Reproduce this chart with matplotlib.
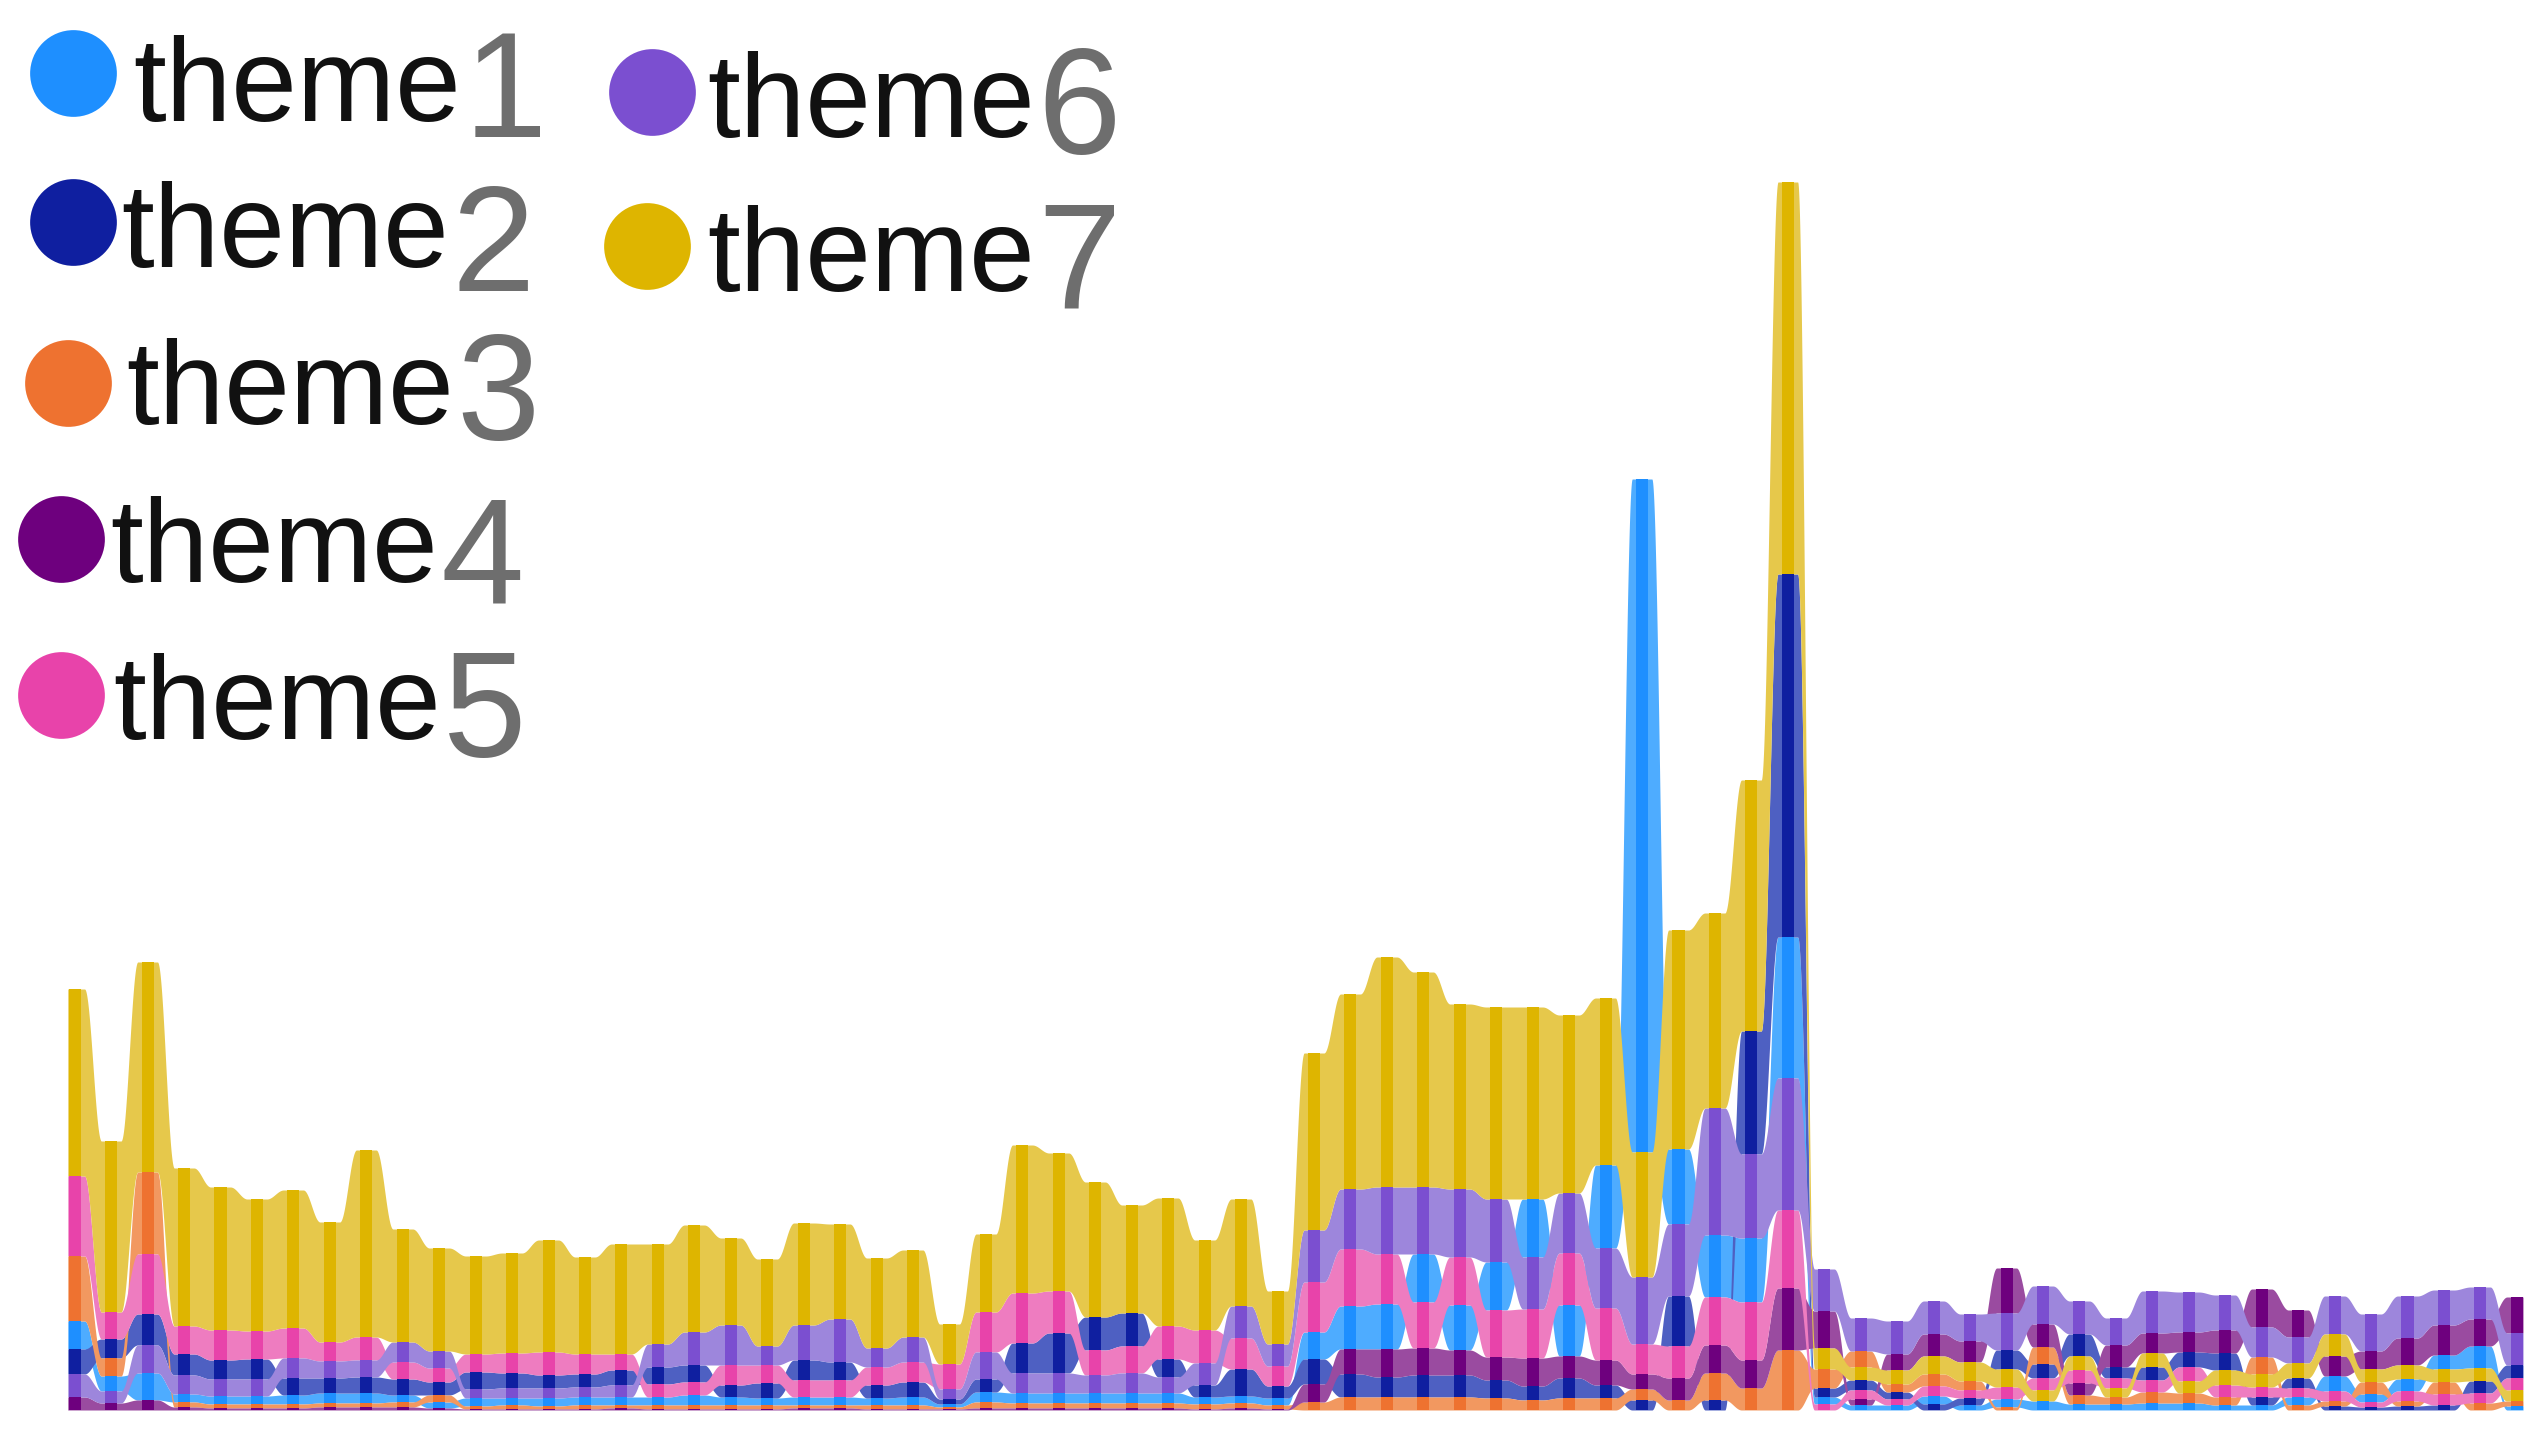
import numpy as np
import matplotlib
matplotlib.use("Agg")
import matplotlib.pyplot as plt

# values per time step (68 steps), one list per theme
theme1 = [28, 15, 27, 8, 8, 8, 9, 10, 10, 7, 6,
          8, 7, 8, 8, 8, 8, 10, 8, 7, 8, 8, 7,
          8, 3, 10, 10, 10, 10, 10, 10, 7, 7, 7,
          27, 43, 45, 48, 45, 48, 58, 51, 83, 673, 75, 62, 64, 141,
          7, 5, 5, 8, 5, 8, 9, 6, 6,
          7, 7, 5, 5, 8, 15, 8, 12, 14, 22, 4]
theme2 = [25, 19, 31, 21, 19, 20, 17, 15, 16, 16, 13,
          17, 15, 13, 13, 15, 17, 17, 12, 15, 20, 18, 13,
          15, 5, 13, 30, 40, 33, 33, 18, 12, 27, 12,
          25, 23, 20, 22, 22, 18, 14, 20, 13, 10, 50, 10, 123, 363,
          9, 10, 7, 6, 7, 19, 14, 22, 11,
          13, 15, 17, 8, 10, 4, 3, 4, 5, 12, 13]
theme3 = [65, 18, 82, 5, 4, 4, 4, 4, 4, 5, 7,
          3, 4, 3, 4, 3, 4, 4, 4, 4, 3, 3, 4,
          4, 2, 6, 5, 5, 5, 5, 5, 5, 5, 4,
          8, 13, 13, 13, 13, 12, 10, 12, 12, 11, 10, 27, 22, 60,
          19, 16, 8, 12, 9, 3, 17, 9, 7,
          11, 10, 8, 17, 5, 5, 12, 5, 12, 7, 5]
theme4 = [13, 7, 10, 3, 2, 2, 2, 3, 3, 3, 2,
          1, 1, 1, 1, 2, 1, 1, 1, 1, 2, 2, 1,
          1, 1, 2, 2, 2, 2, 2, 2, 1, 2, 1,
          18, 25, 28, 27, 25, 23, 28, 22, 25, 15, 22, 28, 28, 62,
          37, 6, 16, 22, 21, 45, 23, 12, 22,
          20, 20, 23, 38, 27, 20, 18, 27, 30, 27, 36]
theme5 = [80, 27, 60, 28, 30, 28, 30, 19, 23, 17, 14,
          18, 20, 23, 20, 16, 13, 13, 20, 18, 17, 17, 18,
          20, 25, 40, 50, 42, 25, 27, 33, 33, 31, 20,
          50, 57, 50, 46, 48, 47, 49, 52, 52, 30, 32, 48, 58, 78,
          6, 9, 6, 10, 8, 12, 12, 13, 10,
          12, 14, 12, 10, 9, 10, 5, 10, 11, 10, 12]
theme6 = [23, 12, 28, 19, 17, 17, 20, 17, 17, 20, 17,
          9, 10, 10, 10, 12, 23, 33, 40, 19, 35, 43, 19,
          25, 10, 27, 20, 20, 18, 20, 16, 22, 32, 22,
          52, 60, 67, 67, 68, 63, 52, 60, 60, 67, 72, 127, 84, 132,
          42, 33, 33, 33, 27, 37, 38, 33, 27,
          42, 40, 35, 30, 26, 38, 37, 42, 35, 32, 32]
theme7 = [187, 171, 210, 158, 143, 132, 138, 120, 187, 113, 103,
          98, 100, 112, 97, 110, 100, 107, 87, 87, 102, 95, 90,
          87, 40, 78, 148, 138, 135, 108, 128, 90, 107, 53,
          177, 195, 230, 215, 185, 192, 192, 178, 167, 125, 219, 195, 251, 392,
          21, 13, 14, 18, 19, 18, 11, 14, 9,
          14, 12, 15, 13, 15, 22, 13, 14, 13, 13, 11]

names = ["theme1", "theme2", "theme3", "theme4", "theme5", "theme6", "theme7"]
dark = ["#1E8FFF", "#0F1FA0", "#EE7230", "#6E007E", "#E843AA", "#7B4FD0", "#DEB500"]
light = ["#4EACFF", "#4E60C2", "#F29860", "#9A4BA0", "#EE7CC0", "#9D86DC", "#E6C84B"]

series = np.array([theme1, theme2, theme3, theme4, theme5, theme6, theme7], dtype=float)
n = series.shape[1]
steps = np.arange(n)

# stack each step with the smallest theme at the bottom
bottoms = np.zeros_like(series)
for j in range(n):
    acc = 0.0
    for i in np.argsort(series[:, j], kind="stable"):
        bottoms[i, j] = acc
        acc += series[i, j]
tops = bottoms + series

xs = np.linspace(-0.19, n - 1 + 0.17, 9000)


def smooth(vals):
    k = np.clip(np.floor(xs).astype(int), 0, n - 2)
    t = np.clip((xs - k - 0.27) / 0.46, 0, 1)
    w = 0.5 - 0.5 * np.cos(np.pi * t)
    return vals[k] * (1 - w) + vals[k + 1] * w


W, H = 2536, 1431
fig = plt.figure(figsize=(W / 100, H / 100), dpi=100)
ax = fig.add_axes([0, 0, 1, 1])
ax.set_xlim(-74.7 / 36.45, (W - 74.7) / 36.45)
ax.set_ylim(-21, 1410)
ax.axis("off")

for i in range(7):
    ax.fill_between(xs, smooth(bottoms[i]), smooth(tops[i]), color=light[i], lw=0)
for i in range(7):
    ax.bar(steps, series[i], bottom=bottoms[i], width=0.33, color=dark[i], lw=0)

# legend drawn by hand: dot, "theme" and a larger grey digit
legend_pos = [(73, 73, 133, 121, 137), (73, 222, 121, 267, 291),
              (68, 383, 126, 424, 440), (61, 539, 110, 582, 602),
              (61, 695, 113, 739, 757), (652, 92, 707, 137, 154),
              (647, 246, 707, 291, 307)]
renderer = fig.canvas.get_renderer()
for i, (cx, cy, tx, ty, dy) in enumerate(legend_pos):
    ax.scatter([cx / W], [1 - cy / H], s=3900, color=dark[i], lw=0,
               transform=fig.transFigure, clip_on=False, zorder=5)
    t = fig.text(tx / W, 1 - ty / H, names[i][:-1], fontsize=85,
                 family="Liberation Sans", color="#111111", va="baseline")
    x1 = t.get_window_extent(renderer).x1
    fig.text(x1 / W + 0.001, 1 - dy / H, names[i][-1], fontsize=108,
             family="Liberation Sans", color="#6E6E6E", va="baseline")

fig.savefig("out.png", dpi=100)
